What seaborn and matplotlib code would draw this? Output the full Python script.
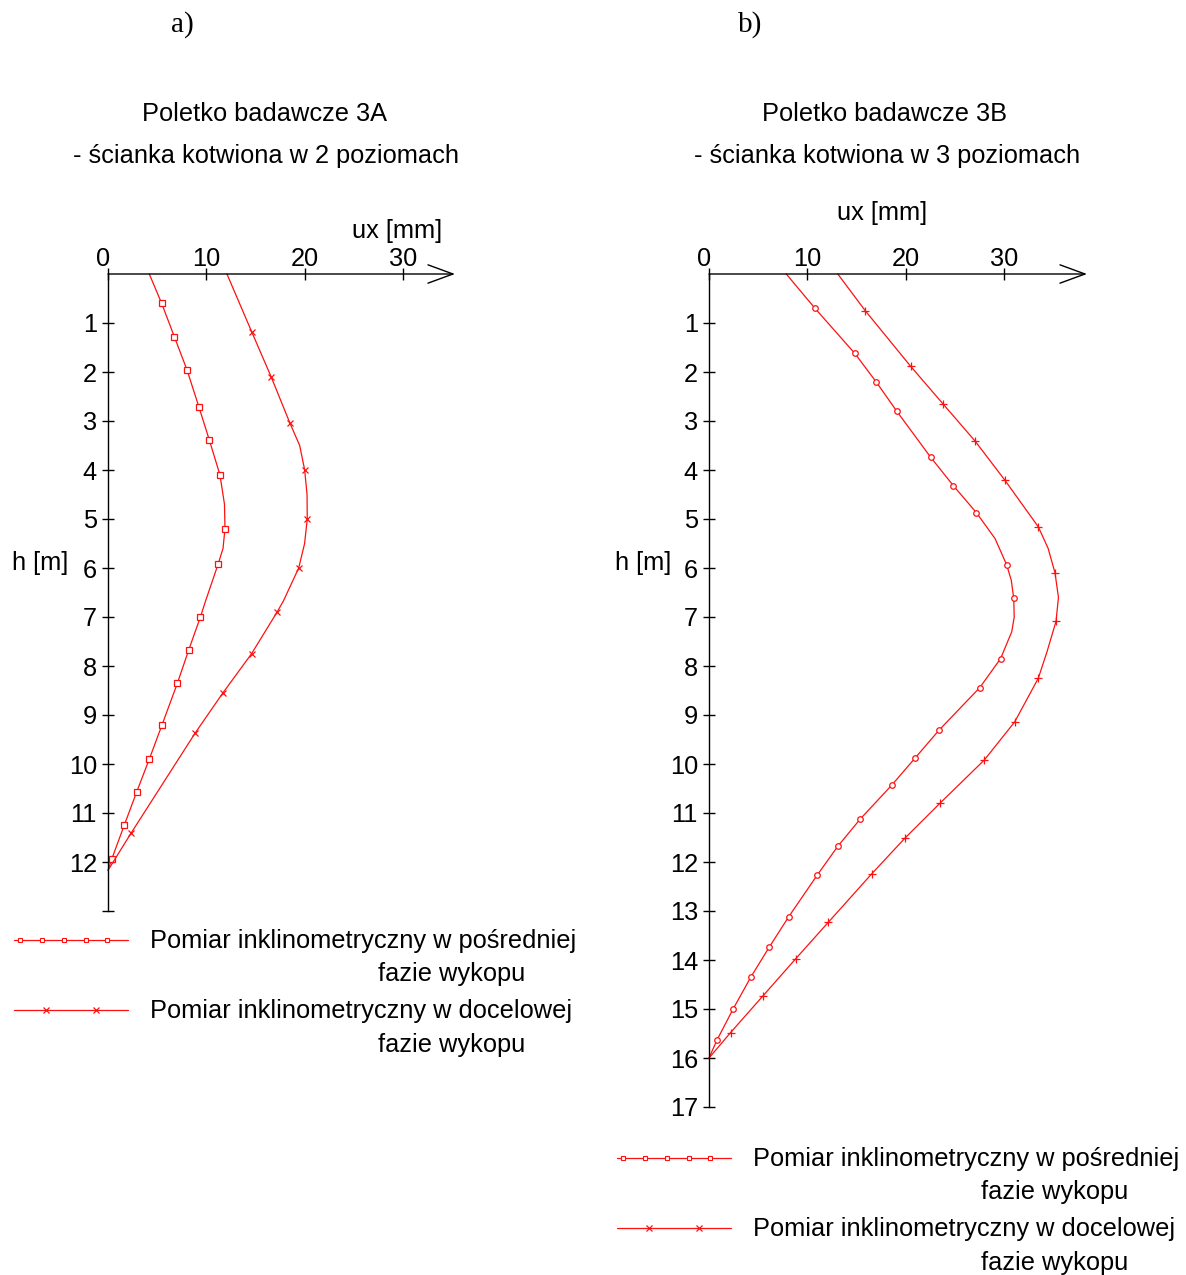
import numpy as np
import pandas as pd
import seaborn as sns
import matplotlib.pyplot as plt
import matplotlib.transforms as mtransforms

sns.set_style("white")
plt.rcParams['font.family'] = ['Liberation Sans', 'DejaVu Sans']
plt.rcParams['text.color'] = 'black'
plt.rcParams['xtick.color'] = 'black'
plt.rcParams['ytick.color'] = 'black'

W, H = 1186, 1275

# --- data: depth h [m] and displacement ux [mm] ---
# panel a) 3A, intermediate phase (squares)
a1_h = [0, 0.60, 1.28, 1.96, 2.72, 3.39, 4.10, 4.70, 5.20, 5.60, 5.91, 6.67, 7.0, 7.68, 8.35, 9.2, 9.9, 10.58, 11.25, 11.93, 12.17]
a1_u = [4.2, 5.46, 6.75, 8.04, 9.26, 10.31, 11.39, 11.85, 11.9, 11.7, 11.22, 9.93, 9.4, 8.2, 7.06, 5.5, 4.2, 2.9, 1.65, 0.4, 0]
a1_mark = [1, 2, 3, 4, 5, 6, 8, 10, 12, 13, 14, 15, 16, 17, 18, 19]
# panel a) 3A, final phase (crosses)
a2_h = [0, 1.19, 2.1, 3.04, 3.5, 3.99, 4.5, 5.0, 5.5, 6.0, 6.67, 6.9, 7.75, 8.56, 9.37, 11.41, 12.17]
a2_u = [12.1, 14.64, 16.6, 18.5, 19.5, 20.0, 20.25, 20.27, 20.0, 19.4, 17.85, 17.2, 14.6, 11.65, 8.86, 2.35, 0]
a2_mark = [1, 2, 3, 5, 7, 9, 11, 12, 13, 14, 15]

# panel b) 3B, intermediate phase (circles)
b1_h = [0, 0.70, 1.62, 2.20, 2.80, 3.74, 4.32, 4.87, 5.4, 5.93, 6.25, 6.62, 7.0, 7.3, 7.85, 8.44, 9.31, 9.87, 10.43,
        11.12, 11.68, 12.27, 13.12, 13.74, 14.35, 14.99, 15.63, 16.0]
b1_u = [7.86, 10.78, 14.83, 17.0, 19.1, 22.55, 24.86, 27.2, 29.1, 30.27, 30.75, 31.0, 31.05, 30.8, 29.66, 27.55, 23.4, 21.0, 18.6,
        15.4, 13.1, 11.0, 8.1, 6.12, 4.25, 2.48, 0.82, 0]
b1_mark = [1, 2, 3, 4, 5, 6, 7, 9, 11, 14, 15, 16, 17, 18, 19, 20, 21, 22, 23, 24, 25, 26]
# panel b) 3B, final phase (crosses)
b2_h = [0, 0.75, 1.88, 2.65, 3.41, 4.2, 5.16, 5.6, 6.1, 6.6, 7.09, 7.7, 8.25, 9.14, 9.92, 10.8, 11.52,
        12.24, 13.23, 13.97, 14.73, 15.48, 16.0]
b2_u = [13.1, 15.9, 20.5, 23.8, 27.07, 30.07, 33.5, 34.5, 35.2, 35.55, 35.3, 34.4, 33.5, 31.1, 28.0, 23.5, 19.9,
        16.56, 12.14, 8.84, 5.5, 2.2, 0]
b2_mark = [1, 2, 3, 4, 5, 6, 8, 10, 12, 13, 14, 15, 16, 17, 18, 19, 20, 21]

x_ticks = [0, 10, 20, 30]
labels_leg = ["Pomiar inklinometryczny w pośredniej", "Pomiar inklinometryczny w docelowej"]

RED = '#ff1010'
fs = 18.3


def fx(x):
    return x / W


def fy(y):
    return 1 - y / H


fig = plt.figure(figsize=(W / 100, H / 100), dpi=100)


def make_panel(rect, xmax, ymax, ylabels):
    ax = fig.add_axes(rect)
    ax.set_xlim(0, xmax)
    ax.set_ylim(ymax, 0)
    for s in ['right', 'bottom', 'top']:
        ax.spines[s].set_visible(False)
    ax.spines['left'].set_linewidth(1.0)
    ax.spines['left'].set_color('black')
    ax.annotate('', xy=(1, 1), xytext=(0, 1), xycoords='axes fraction',
                arrowprops=dict(arrowstyle='->,head_length=0.9,head_width=0.33',
                                lw=1.0, color='black', mutation_scale=20,
                                shrinkA=0, shrinkB=0))
    ax.set_xticks(x_ticks)
    ax.set_xticklabels([str(t) for t in x_ticks])
    ax.set_yticks(range(1, ymax + 1))
    ax.set_yticklabels(ylabels)
    ax.tick_params(axis='x', top=True, labeltop=True, bottom=False, labelbottom=False,
                   direction='inout', length=8, width=1, pad=-2, labelsize=fs)
    ax.tick_params(axis='y', left=True, direction='inout', length=8, width=1, pad=4, labelsize=fs)
    # "0" sits a little left of the axis in the original
    lab0 = ax.get_xticklabels(which='major')[0]
    lab0.set_transform(lab0.get_transform() + mtransforms.ScaledTranslation(-5 / 100, 0, fig.dpi_scale_trans))
    ax.set_xlabel('')
    ax.set_ylabel('')
    ax.grid(False)
    return ax


def draw(ax, h, u, mark, marker, ms):
    sns.lineplot(x=u, y=h, sort=False, estimator=None, ax=ax, color=RED, lw=0.9,
                 marker=marker, markevery=mark, markersize=ms, markerfacecolor='white',
                 markeredgecolor=RED, markeredgewidth=0.9, clip_on=False)


# panel a
ax_a = make_panel([fx(108), fy(911), 347 / W, 637 / H], 347 / 9.83, 13,
                  [str(i) for i in range(1, 13)] + [''])
draw(ax_a, a1_h, a1_u, a1_mark, 's', 3.8)
draw(ax_a, a2_h, a2_u, a2_mark, 'x', 4.5)

# panel b
ax_b = make_panel([fx(709), fy(1107), 378 / W, 833 / H], 378 / 9.83, 17,
                  [str(i) for i in range(1, 18)])
draw(ax_b, b1_h, b1_u, b1_mark, 'o', 4.0)
draw(ax_b, b2_h, b2_u, b2_mark, '+', 5.5)

# texts
fig.text(fx(182), fy(25), 'a)', ha='center', va='center', fontsize=21, family='Liberation Serif')
fig.text(fx(750), fy(25), 'b)', ha='center', va='center', fontsize=21, family='Liberation Serif')
fig.text(fx(265), fy(114), 'Poletko badawcze 3A', ha='center', va='center', fontsize=fs)
fig.text(fx(266), fy(156), '- ścianka kotwiona w 2 poziomach', ha='center', va='center', fontsize=fs)
fig.text(fx(885), fy(114), 'Poletko badawcze 3B', ha='center', va='center', fontsize=fs)
fig.text(fx(887), fy(156), '- ścianka kotwiona w 3 poziomach', ha='center', va='center', fontsize=fs)
fig.text(fx(397), fy(231), 'ux [mm]', ha='center', va='center', fontsize=fs)
fig.text(fx(882), fy(213), 'ux [mm]', ha='center', va='center', fontsize=fs)
fig.text(fx(40), fy(563), 'h [m]', ha='center', va='center', fontsize=fs)
fig.text(fx(643), fy(563), 'h [m]', ha='center', va='center', fontsize=fs)

# legends drawn on an overlay in pixel units
lg = fig.add_axes([0, 0, 1, 1])
lg.set_xlim(0, W)
lg.set_ylim(H, 0)
lg.axis('off')


def legend_block(x0, y0):
    lx = [x0, x0 + 6, x0 + 28, x0 + 50, x0 + 72, x0 + 93, x0 + 114]
    lg.plot(lx, [y0] * len(lx), color=RED, lw=0.9, marker='s', markevery=[1, 2, 3, 4, 5],
            markersize=3, markerfacecolor='white', markeredgecolor=RED, markeredgewidth=0.8)
    lx2 = [x0, x0 + 32, x0 + 82, x0 + 114]
    lg.plot(lx2, [y0 + 70] * len(lx2), color=RED, lw=0.9, marker='x', markevery=[1, 2],
            markersize=4, markeredgewidth=0.9)
    lg.text(x0 + 136, y0 + 1, labels_leg[0], ha='left', va='center', fontsize=fs)
    lg.text(x0 + 364, y0 + 34, 'fazie wykopu', ha='left', va='center', fontsize=fs)
    lg.text(x0 + 136, y0 + 71, labels_leg[1], ha='left', va='center', fontsize=fs)
    lg.text(x0 + 364, y0 + 105, 'fazie wykopu', ha='left', va='center', fontsize=fs)


legend_block(14, 940)
legend_block(617, 1158)

fig.savefig('out.png', dpi=100)
